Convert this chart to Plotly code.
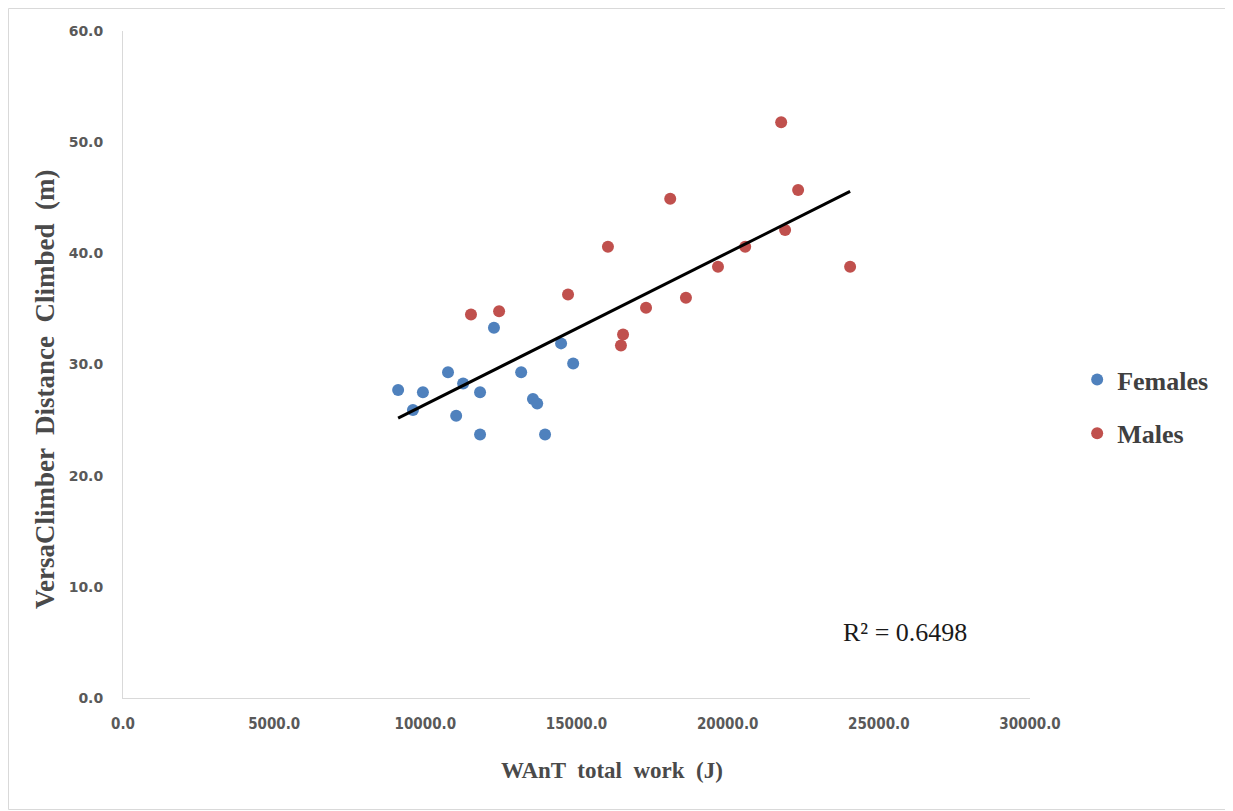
import numpy as np
import plotly.graph_objects as go

# Data
females_x = [9100, 9590, 9920, 10750, 11020, 11250, 11810, 11810, 12270, 13170, 13560, 13700, 13960, 14490, 14890]
females_y = [27.7, 25.9, 27.5, 29.3, 25.4, 28.3, 27.5, 23.7, 33.3, 29.3, 26.9, 26.5, 23.7, 31.9, 30.1]
males_x = [11510, 12440, 14720, 16040, 16470, 16540, 17300, 18100, 18620, 19680, 20580, 21770, 21900, 22330, 24050]
males_y = [34.5, 34.8, 36.3, 40.6, 31.7, 32.7, 35.1, 44.9, 36.0, 38.8, 40.6, 51.8, 42.1, 45.7, 38.8]
x_ticks = [0, 5000, 10000, 15000, 20000, 25000, 30000]
y_ticks = [0, 10, 20, 30, 40, 50, 60]
r2_text = "R² = 0.6498"
x_title = "WAnT  total  work  (J)"
y_title = "VersaClimber  Distance  Climbed  (m)"

all_x = np.array(females_x + males_x, dtype=float)
all_y = np.array(females_y + males_y, dtype=float)
slope, intercept = np.polyfit(all_x, all_y, 1)
line_x = np.array([all_x.min(), all_x.max()])
line_y = slope * line_x + intercept

fig = go.Figure()
fig.add_trace(go.Scatter(x=females_x, y=females_y, mode="markers", name="Females",
                         legendgroup="f",
                         marker=dict(color="#4F81BD", size=12)))
fig.add_trace(go.Scatter(x=males_x, y=males_y, mode="markers", name="Males",
                         legendgroup="m",
                         marker=dict(color="#C0504D", size=12)))
fig.add_trace(go.Scatter(x=line_x, y=line_y, mode="lines", showlegend=False,
                         line=dict(color="black", width=3)))

# page body has an 8px margin; figure is sized to fit the 1233x811 window
W, H = 1225, 803
ml, mr, mt, mb = 115, 203, 23, 113
pw, ph = W - ml - mr, H - mt - mb

title_font = dict(family="Liberation Serif", color="#4a4a4a", weight="bold")

fig.update_layout(
    width=W, height=H,
    margin=dict(l=ml, r=mr, t=mt, b=mb),
    paper_bgcolor="white", plot_bgcolor="white",
    showlegend=True,
    legend=dict(x=1.052, y=0.437, xanchor="left", yanchor="middle",
                font=dict(family="Liberation Serif", size=26, color="#404040", weight="bold"),
                tracegroupgap=17, itemwidth=30, itemsizing="constant"),
    xaxis=dict(range=[0, 30000], tickvals=x_ticks,
               ticktext=[f"{v:.1f}" for v in x_ticks],
               showgrid=False, zeroline=False, showline=True, linecolor="#d9d9d9", linewidth=1,
               ticks="", ticklabelstandoff=12,
               tickfont=dict(family="DejaVu Sans Condensed", size=15, color="#595959", weight="bold")),
    yaxis=dict(range=[0, 60], tickvals=y_ticks,
               ticktext=[f"{v:.1f}" for v in y_ticks],
               showgrid=False, zeroline=False, showline=True, linecolor="#d9d9d9", linewidth=1,
               ticks="", ticklabelstandoff=16,
               tickfont=dict(family="DejaVu Sans", size=14, color="#595959", weight="bold")),
    annotations=[
        dict(x=25870, y=5.9, xref="x", yref="y", text=r2_text, showarrow=False,
             font=dict(family="Liberation Serif", size=26, color="#1a1a1a")),
        dict(x=(604 - ml) / pw, y=(H - mb - 762) / ph, xref="paper", yref="paper",
             text=x_title, showarrow=False, xanchor="center", yanchor="middle",
             font=dict(size=23, **title_font)),
        dict(x=(37 - ml) / pw, y=(H - mb - 382) / ph, xref="paper", yref="paper",
             text=y_title, showarrow=False, textangle=-90, xanchor="center", yanchor="middle",
             font=dict(size=27, **title_font)),
    ],
    shapes=[dict(type="rect", xref="paper", yref="paper",
                 x0=(0.5 - ml) / pw, x1=1 + (mr - 1.5) / pw,
                 y0=-(mb - 1.5) / ph, y1=1 + (mt - 0.5) / ph,
                 line=dict(color="#d9d9d9", width=1), fillcolor="rgba(0,0,0,0)", layer="below")],
)

fig.write_html("out.html")
